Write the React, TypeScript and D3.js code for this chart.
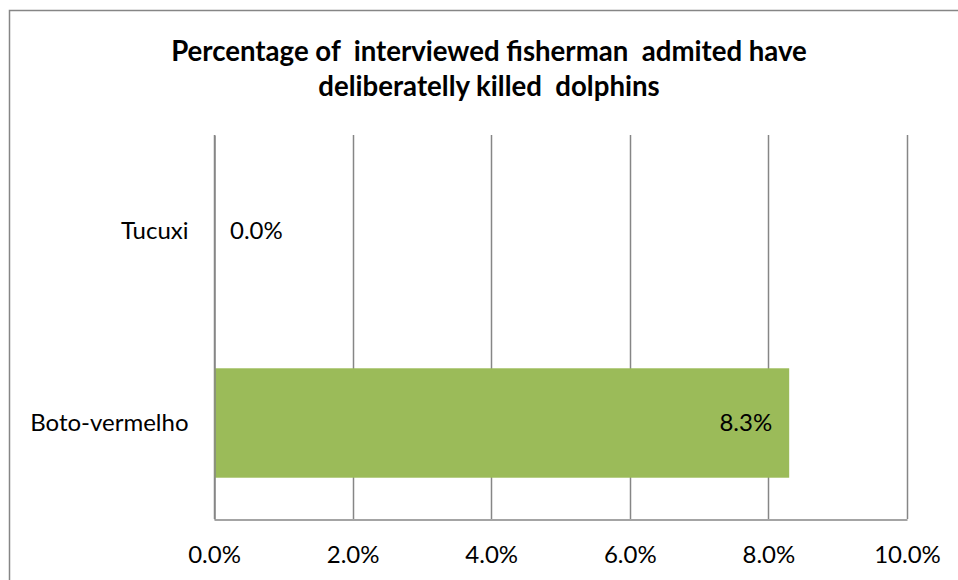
import React, { useRef, useEffect } from 'react';
import * as d3 from 'd3';

const categories: string[] = ['Tucuxi', 'Boto-vermelho'];
const values: number[] = [0.0, 8.3];
const xTicks: number[] = [0, 2, 4, 6, 8, 10];
const titleLines: string[] = [
  'Percentage of  interviewed fisherman  admited have',
  'deliberatelly killed  dolphins',
];

const W = 958;
const H = 580;
const FONT = 'Lato, "Open Sans", sans-serif';
const GRID = '#868686';
const LABEL_SIZE = 24;

const App: React.FC = () => {
  const svgRef = useRef<SVGSVGElement | null>(null);

  useEffect(() => {
    const svg = d3.select(svgRef.current!);
    svg.selectAll('*').remove();

    const margin = { left: 214, right: 51, top: 135, bottom: 61 };

    const x = d3.scaleLinear()
      .domain([0, 10])
      .range([margin.left, W - margin.right]);

    const y = d3.scaleBand()
      .domain(categories)
      .range([margin.top, H - margin.bottom])
      .paddingInner(0.43)
      .paddingOuter(0.215);

    // chart border
    svg.append('rect')
      .attr('x', 9.5)
      .attr('y', 10.5)
      .attr('width', W + 10)
      .attr('height', H + 10)
      .attr('fill', 'white')
      .attr('stroke', GRID)
      .attr('stroke-width', 1.5);

    // title
    svg.append('g')
      .selectAll('text')
      .data(titleLines)
      .enter()
      .append('text')
      .attr('x', 489)
      .attr('y', (d, i) => 61 + i * 35)
      .attr('text-anchor', 'middle')
      .attr('font-family', FONT)
      .attr('font-weight', 'bold')
      .attr('font-size', 27.6)
      .attr('fill', '#000')
      .style('white-space', 'pre')
      .text((d) => d);

    // gridlines
    svg.append('g')
      .selectAll('line')
      .data(xTicks)
      .enter()
      .append('line')
      .attr('x1', (d) => Math.round(x(d)) + 0.5)
      .attr('x2', (d) => Math.round(x(d)) + 0.5)
      .attr('y1', margin.top)
      .attr('y2', H - margin.bottom)
      .attr('stroke', GRID)
      .attr('stroke-width', 1.5);

    // bars
    svg.append('g')
      .selectAll('rect')
      .data(values)
      .enter()
      .append('rect')
      .attr('x', x(0))
      .attr('y', (d, i) => y(categories[i])!)
      .attr('width', (d) => x(d) - x(0))
      .attr('height', y.bandwidth())
      .attr('fill', '#9bbb59');

    // x axis
    const xAxis = svg.append('g')
      .attr('transform', `translate(0,${H - margin.bottom + 0.5})`)
      .call(d3.axisBottom(x).tickValues(xTicks).tickSize(0).tickPadding(26)
        .tickFormat((d) => `${(d as number).toFixed(1)}%`));
    xAxis.select('.domain').attr('stroke', GRID).attr('stroke-width', 1.5);
    xAxis.selectAll('text')
      .attr('font-family', FONT)
      .attr('font-size', LABEL_SIZE)
      .attr('fill', '#000');

    // y axis
    const yAxis = svg.append('g')
      .attr('transform', `translate(${margin.left + 0.5},0)`)
      .call(d3.axisLeft(y).tickSize(0).tickPadding(26));
    yAxis.select('.domain').attr('stroke', GRID).attr('stroke-width', 1.5);
    yAxis.selectAll('text')
      .attr('font-family', FONT)
      .attr('font-size', LABEL_SIZE)
      .attr('fill', '#000');

    // value labels
    svg.append('g')
      .selectAll('text')
      .data(values)
      .enter()
      .append('text')
      .attr('x', (d) => (d === 0 ? x(0) + 16 : x(d) - 17))
      .attr('y', (d, i) => y(categories[i])! + y.bandwidth() / 2)
      .attr('dy', '0.35em')
      .attr('text-anchor', (d) => (d === 0 ? 'start' : 'end'))
      .attr('font-family', FONT)
      .attr('font-size', LABEL_SIZE)
      .attr('fill', '#000')
      .text((d) => `${d.toFixed(1)}%`);
  }, []);

  return (
    <svg
      ref={svgRef}
      width={W}
      height={H}
      style={{ position: 'absolute', left: 0, top: 0 }}
    ></svg>
  );
};

export default App;
